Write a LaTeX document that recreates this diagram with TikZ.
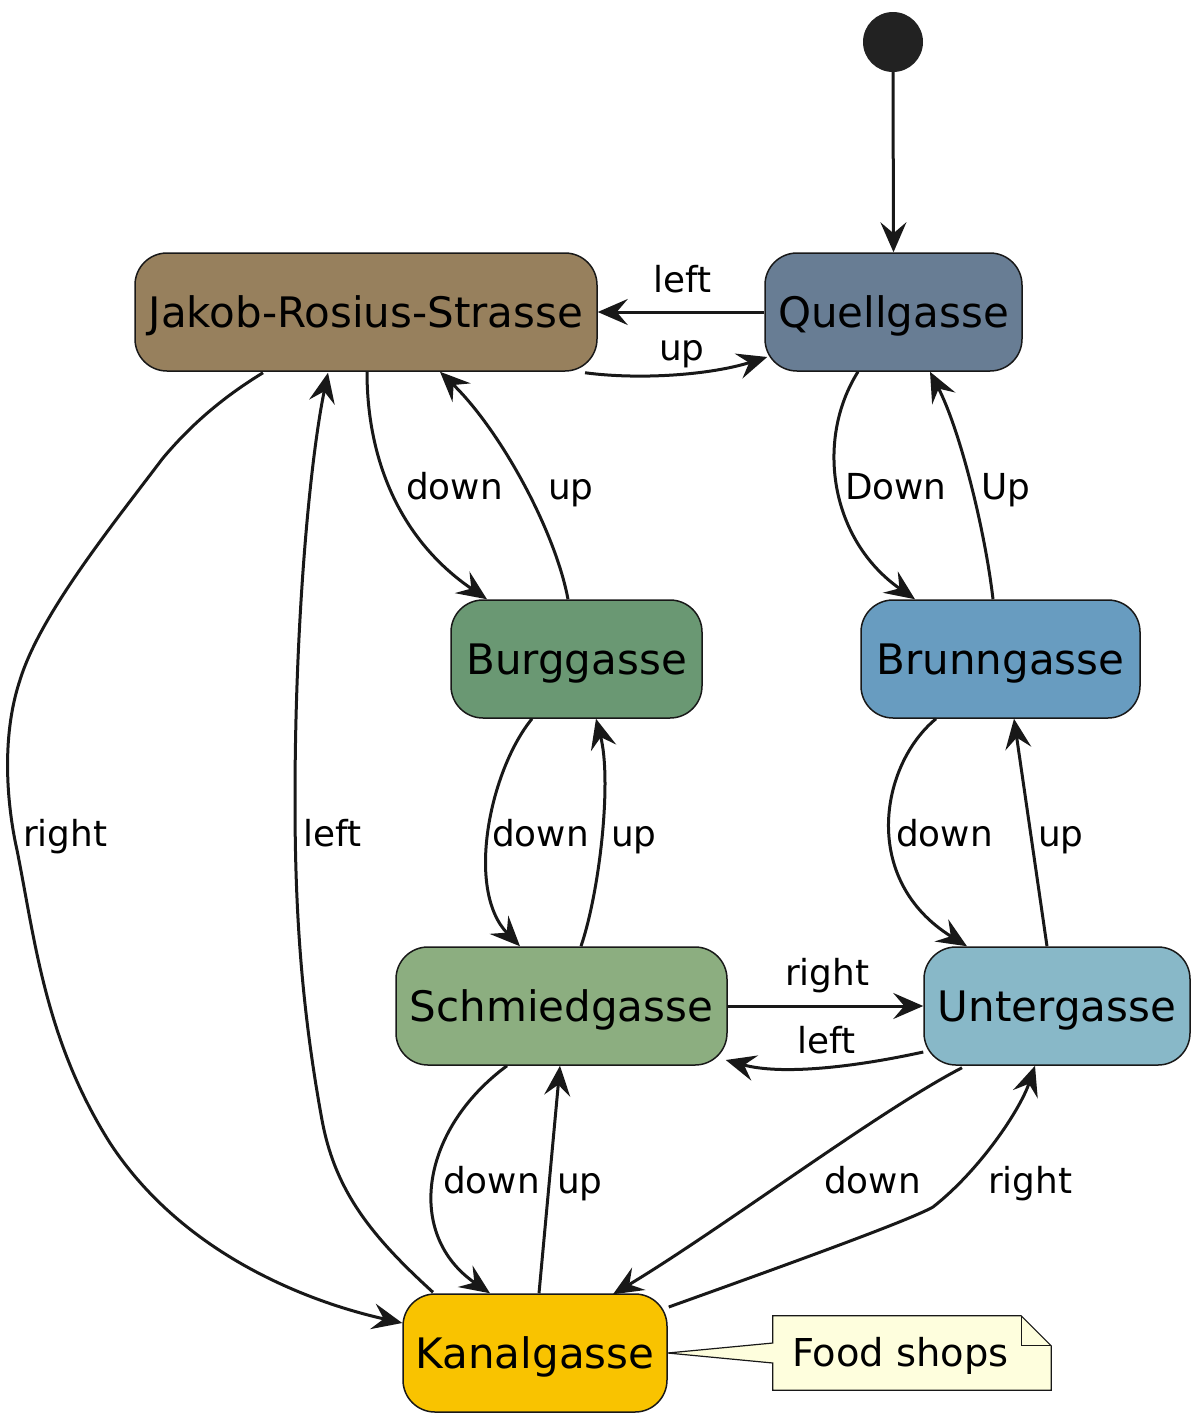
\documentclass[tikz,border=0pt]{standalone}
\usepackage{fontspec}
\setmainfont{DejaVu Sans}
\usetikzlibrary{arrows.meta,calc}
\definecolor{lc}{RGB}{24,24,24}
\definecolor{cStart}{RGB}{34,34,34}
\definecolor{cJ}{RGB}{151,128,93}
\definecolor{cQ}{RGB}{104,125,148}
\definecolor{cB}{RGB}{106,152,115}
\definecolor{cBr}{RGB}{104,156,192}
\definecolor{cS}{RGB}{140,174,128}
\definecolor{cU}{RGB}{136,184,200}
\definecolor{cK}{RGB}{249,195,0}
\definecolor{cN}{RGB}{254,254,221}
\begin{document}
\begin{tikzpicture}[x=1pt,y=-1pt,
  state/.style={draw=lc, line width=1.5pt, rounded corners=32pt, minimum height=118pt,
    inner sep=0pt, text height=38pt, text depth=8pt, font=\fontsize{42}{48}\selectfont, text=black},
  edge/.style={draw=lc, line width=3pt, -{Stealth[length=30pt,width=26pt,inset=11pt]}},
  lbl/.style={font=\fontsize{35.8}{40}\selectfont, inner sep=0pt, anchor=base west, text=black}]
\useasboundingbox (0,0) rectangle (1192,1414);

% states
\node[state, fill=cJ, minimum width=462pt] (jakob) at (366,312) {Jakob-Rosius-Strasse};
\node[state, fill=cQ, minimum width=257pt] (quell) at (893.5,312) {Quellgasse};
\node[state, fill=cB, minimum width=251pt] (burg) at (576.5,659) {Burggasse};
\node[state, fill=cBr, minimum width=279pt] (brunn) at (1000.5,659) {Brunngasse};
\node[state, fill=cS, minimum width=331pt] (schmied) at (561.5,1006) {Schmiedgasse};
\node[state, fill=cU, minimum width=266pt] (unter) at (1057,1006) {Untergasse};
\node[state, fill=cK, minimum width=264pt] (kanal) at (535,1353) {Kanalgasse};
\node[circle, fill=cStart, minimum size=60pt, inner sep=0pt] (start) at (893,42) {};

% note
\node[minimum width=278pt, minimum height=74pt, inner sep=0pt] (note) at (912,1353) {};
\draw[lc, line width=1.2pt, fill=cN]
  (note.north west) -- ($(note.north east)+(-30,0)$) -- ($(note.north east)+(0,30)$)
  -- (note.south east) -- (note.south west) -- ($(note.west)+(0,10)$)
  -- (kanal.east) -- ($(note.west)+(0,-10)$) -- cycle;
\draw[lc, line width=1.2pt] ($(note.north east)+(-30,0)$) -- ($(note.north east)+(-30,30)$) -- ($(note.north east)+(0,30)$);
\node[font=\fontsize{38.4}{44}\selectfont, inner sep=0pt, anchor=base west] (notetext) at (792,1366) {Food shops};

% edges
\draw[edge] (start.south) -- (quell.north);
\draw[edge] (quell.west) -- (jakob.east);
\draw[edge] ($(jakob.south)+(219,1)$) .. controls (640,380) and (710,375) .. ($(quell.west)+(3,45)$);
\draw[edge] ($(jakob.south)+(1,0)$) .. controls (367,460) and (400,540) .. ($(burg.north)+(-89.5,0)$);
\draw[edge] ($(burg.north)+(-8.5,0)$) .. controls (555,530) and (500,430) .. ($(jakob.south)+(74,0)$);
\draw[edge] ($(quell.south)+(-35.5,0)$) .. controls (815,440) and (830,540) .. ($(brunn.north)+(-85.5,0)$);
\draw[edge] ($(brunn.north)+(-7.5,0)$) .. controls (985,530) and (960,430) .. ($(quell.south)+(36.5,0)$);
\draw[edge] ($(burg.south)+(-44.5,0)$) .. controls (490,770) and (465,890) .. ($(schmied.north)+(-41.5,0)$);
\draw[edge] ($(schmied.north)+(19.5,0)$) .. controls (600,890) and (612,780) .. ($(burg.south)+(19.5,0)$);
\draw[edge] ($(brunn.south)+(-64.5,0)$) .. controls (880,765) and (860,880) .. ($(unter.north)+(-90,0)$);
\draw[edge] ($(unter.north)+(-10,0)$) -- ($(brunn.south)+(13.5,0)$);
\draw[edge] (schmied.east) -- (unter.west);
\draw[edge] ($(unter.west)+(0,46)$) .. controls (850,1068) and (780,1075) .. ($(schmied.east)+(-2,54)$);
\draw[edge] ($(schmied.south)+(-54.5,0)$) .. controls (420,1130) and (405,1235) .. ($(kanal.north)+(-45,0)$);
\draw[edge] ($(kanal.north)+(4,0)$) -- ($(schmied.south)+(-1.5,0)$);
\draw[edge] ($(unter.south)+(-95,2)$) .. controls (880,1110) and (720,1230) .. ($(kanal.north)+(78,1)$);
\draw[edge] ($(kanal.east)+(1,-46)$) .. controls (800,1260) and (910,1220) .. (933,1207)
  .. controls (980,1170) and (1020,1110) .. ($(unter.south)+(-22,0)$);
\draw[edge] ($(jakob.south)+(-103,1)$) .. controls (215,402) and (185,432) .. (163,458)
  .. controls (110,528) and (40,615) .. (20,680)
  .. controls (0,740) and (8,810) .. (17,850)
  .. controls (35,940) and (45,1040) .. (110,1143)
  .. controls (180,1250) and (300,1300) .. ($(kanal.west)+(0,-30)$);
\draw[edge] ($(kanal.north)+(-102,-1)$) .. controls (370,1235) and (335,1190) .. (322,1120)
  .. controls (300,1000) and (295,900) .. (295,800)
  .. controls (295,620) and (310,460) .. ($(jakob.south)+(-38,1)$);

% labels
\node[lbl] (l1) at (653,292) {left};
\node[lbl] (l2) at (659,360) {up};
\node[lbl] (l3) at (406,499) {down};
\node[lbl] (l4) at (548,499) {up};
\node[lbl] (l5) at (845,499) {Down};
\node[lbl] (l6) at (981,499) {Up};
\node[lbl] (l7) at (23,846) {right};
\node[lbl] (l8) at (303,846) {left};
\node[lbl] (l9) at (492,846) {down};
\node[lbl] (l10) at (611,846) {up};
\node[lbl] (l11) at (896,846) {down};
\node[lbl] (l12) at (1038,846) {up};
\node[lbl] (l13) at (785,985) {right};
\node[lbl] (l14) at (797,1053) {left};
\node[lbl] (l15) at (443,1193) {down};
\node[lbl] (l16) at (557,1193) {up};
\node[lbl] (l17) at (824,1193) {down};
\node[lbl] (l18) at (988,1193) {right};
\end{tikzpicture}
\end{document}
